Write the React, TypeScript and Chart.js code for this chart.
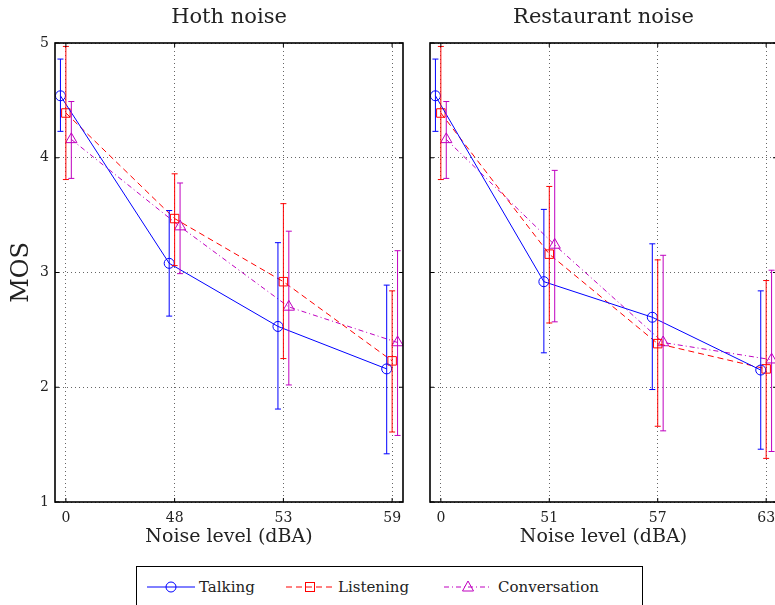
import React, { useEffect, useRef } from 'react';
import { Chart, registerables } from 'chart.js';
Chart.register(...registerables);

const FONT = '"DejaVu Serif", "Liberation Serif", serif';

// ---- data ----
const hothLabels = ['0', '48', '53', '59'];
const restLabels = ['0', '51', '57', '63'];

const hothTalking = [4.54, 3.08, 2.53, 2.16];
const hothTalkingLow = [4.23, 2.62, 1.81, 1.42];
const hothTalkingHigh = [4.86, 3.54, 3.26, 2.89];
const hothListening = [4.39, 3.47, 2.92, 2.23];
const hothListeningLow = [3.81, 3.06, 2.25, 1.61];
const hothListeningHigh = [4.97, 3.86, 3.6, 2.84];
const hothConversation = [4.16, 3.4, 2.7, 2.39];
const hothConversationLow = [3.82, 2.99, 2.02, 1.58];
const hothConversationHigh = [4.49, 3.78, 3.36, 3.19];

const restTalking = [4.54, 2.92, 2.61, 2.15];
const restTalkingLow = [4.23, 2.3, 1.98, 1.46];
const restTalkingHigh = [4.86, 3.55, 3.25, 2.84];
const restListening = [4.39, 3.16, 2.38, 2.16];
const restListeningLow = [3.81, 2.56, 1.66, 1.38];
const restListeningHigh = [4.97, 3.75, 3.11, 2.93];
const restConversation = [4.16, 3.24, 2.39, 2.24];
const restConversationLow = [3.82, 2.57, 1.62, 1.44];
const restConversationHigh = [4.49, 3.89, 3.15, 3.02];

const seriesNames = ['Talking', 'Listening', 'Conversation'];
const seriesColors = ['#0000ff', '#ff0000', '#bf00bf'];
const seriesOffsets = [-0.05, 0, 0.05];
const seriesDashes = [[], [6, 4], [5, 3, 1, 3]];
const seriesPointStyles = ['circle', 'rect', 'triangle'];
const seriesPointRadius = [5, 6, 6.5];

const errorBarPlugin = {
  id: 'errorBars',
  afterDatasetsDraw(chart: any) {
    const ctx = chart.ctx;
    const yScale = chart.scales.y;
    chart.data.datasets.forEach((ds: any, di: number) => {
      const meta = chart.getDatasetMeta(di);
      meta.data.forEach((pt: any, i: number) => {
        const x = pt.x;
        const yl = yScale.getPixelForValue(ds.errLow[i]);
        const yh = yScale.getPixelForValue(ds.errHigh[i]);
        ctx.save();
        ctx.strokeStyle = ds.borderColor;
        ctx.lineWidth = 1;
        ctx.setLineDash([]);
        ctx.beginPath();
        ctx.moveTo(x, yl);
        ctx.lineTo(x, yh);
        ctx.moveTo(x - 3, yl);
        ctx.lineTo(x + 3, yl);
        ctx.moveTo(x - 3, yh);
        ctx.lineTo(x + 3, yh);
        ctx.stroke();
        ctx.restore();
      });
    });
  },
};

const framePlugin = {
  id: 'frame',
  afterDraw(chart: any) {
    const { ctx, chartArea: a } = chart;
    ctx.save();
    ctx.strokeStyle = '#000';
    ctx.lineWidth = 1;
    ctx.setLineDash([]);
    ctx.beginPath();
    // inward ticks
    chart.scales.x.ticks.forEach((t: any) => {
      const px = chart.scales.x.getPixelForValue(t.value);
      ctx.moveTo(px, a.bottom);
      ctx.lineTo(px, a.bottom - 4);
      ctx.moveTo(px, a.top);
      ctx.lineTo(px, a.top + 4);
    });
    chart.scales.y.ticks.forEach((t: any) => {
      const py = chart.scales.y.getPixelForValue(t.value);
      ctx.moveTo(a.left, py);
      ctx.lineTo(a.left + 4, py);
      ctx.moveTo(a.right, py);
      ctx.lineTo(a.right - 4, py);
    });
    ctx.stroke();
    ctx.lineWidth = 1.6;
    ctx.strokeRect(a.left, a.top, a.right - a.left, a.bottom - a.top);
    ctx.restore();
  },
};

function buildDatasets(values: number[][], lows: number[][], highs: number[][]) {
  return values.map((vals, s) => ({
    label: seriesNames[s],
    data: vals.map((v, i) => ({ x: i + seriesOffsets[s], y: v })),
    errLow: lows[s],
    errHigh: highs[s],
    borderColor: seriesColors[s],
    backgroundColor: seriesColors[s],
    borderWidth: 1,
    borderDash: seriesDashes[s],
    pointStyle: seriesPointStyles[s],
    pointRadius: seriesPointRadius[s],
    pointBorderColor: seriesColors[s],
    pointBackgroundColor: 'rgba(0,0,0,0)',
    pointBorderWidth: 1,
    tension: 0,
    fill: false,
  }));
}

function makeConfig(title: string, labels: string[], datasets: any[], first: boolean): any {
  const gridColor = 'rgba(0,0,0,0.6)';
  return {
    type: 'line',
    data: { datasets },
    plugins: [errorBarPlugin, framePlugin],
    options: {
      animation: false,
      responsive: false,
      events: [],
      layout: { padding: { left: 0, right: first ? 12 : 18, top: 0, bottom: 8 } },
      plugins: {
        legend: { display: false },
        tooltip: { enabled: false },
        title: {
          display: true,
          text: title,
          fullSize: false,
          color: '#222',
          font: { family: FONT, size: 21, weight: 'normal', lineHeight: 1.2 },
          padding: { top: 5, bottom: 12.8 },
        },
      },
      scales: {
        x: {
          type: 'linear',
          min: -0.1,
          max: 3.1,
          afterBuildTicks: (scale: any) => {
            scale.ticks = labels.map((_, i) => ({ value: i }));
          },
          afterFit: (scale: any) => {
            scale.height = 50;
          },
          border: { display: false, dash: [1, 3] },
          grid: { color: gridColor, drawTicks: false, lineWidth: 1 },
          ticks: {
            padding: 8,
            maxRotation: 0,
            autoSkip: false,
            color: '#222',
            font: { family: FONT, size: 14, lineHeight: 1.2 },
            callback: (v: any) => labels[Math.round(v)] ?? '',
          },
          title: {
            display: true,
            text: 'Noise level (dBA)',
            color: '#222',
            font: { family: FONT, size: 19, lineHeight: 1.2 },
            padding: { top: 0, bottom: 4 },
          },
        },
        y: {
          type: 'linear',
          min: 1,
          max: 5,
          afterFit: (scale: any) => {
            scale.width = first ? 55 : 15;
          },
          border: { display: false, dash: [1, 3] },
          grid: { color: gridColor, drawTicks: false, lineWidth: 1 },
          ticks: {
            display: first,
            stepSize: 1,
            padding: 6,
            color: '#222',
            font: { family: FONT, size: 14, lineHeight: 1.2 },
          },
          title: {
            display: first,
            text: 'MOS',
            color: '#222',
            font: { family: FONT, size: 24, lineHeight: 1.2 },
            padding: { top: 7.6, bottom: 0 },
          },
        },
      },
    },
  };
}

function Panel(props: { config: any; left: number; width: number; height: number }) {
  const ref = useRef<HTMLCanvasElement | null>(null);
  useEffect(() => {
    if (!ref.current) return;
    const chart = new Chart(ref.current, props.config);
    return () => chart.destroy();
  }, []);
  return (
    <canvas
      ref={ref}
      width={props.width}
      height={props.height}
      style={{ position: 'absolute', left: props.left, top: 0, width: props.width, height: props.height }}
    />
  );
}

function LegendItem(props: { idx: number; lineLeft: number; textLeft: number }) {
  const { idx, lineLeft, textLeft } = props;
  const c = seriesColors[idx];
  const dash = seriesDashes[idx].join(' ');
  let marker: any;
  if (idx === 0) marker = <circle cx={24} cy={8} r={5} fill="none" stroke={c} strokeWidth={1} />;
  else if (idx === 1) marker = <rect x={19.5} y={3.5} width={9} height={9} fill="none" stroke={c} strokeWidth={1} />;
  else marker = <polygon points="24,2 29.5,12 18.5,12" fill="none" stroke={c} strokeWidth={1} />;
  return (
    <>
      <svg
        width={48}
        height={16}
        style={{ position: 'absolute', left: lineLeft, top: 579 }}
      >
        <line x1={0} y1={8} x2={48} y2={8} stroke={c} strokeWidth={1} strokeDasharray={dash || undefined} />
        {marker}
      </svg>
      <span
        style={{
          position: 'absolute',
          left: textLeft,
          top: 578,
          font: `15px ${FONT}`,
          lineHeight: '18px',
          color: '#222',
          whiteSpace: 'nowrap',
        }}
      >
        {seriesNames[idx]}
      </span>
    </>
  );
}

export default function App() {
  const hothConfig = makeConfig(
    'Hoth noise',
    hothLabels,
    buildDatasets(
      [hothTalking, hothListening, hothConversation],
      [hothTalkingLow, hothListeningLow, hothConversationLow],
      [hothTalkingHigh, hothListeningHigh, hothConversationHigh]
    ),
    true
  );
  const restConfig = makeConfig(
    'Restaurant noise',
    restLabels,
    buildDatasets(
      [restTalking, restListening, restConversation],
      [restTalkingLow, restListeningLow, restConversationLow],
      [restTalkingHigh, restListeningHigh, restConversationHigh]
    ),
    false
  );
  return (
    <div
      style={{
        position: 'fixed',
        left: 0,
        top: 0,
        width: 775,
        height: 605,
        overflow: 'hidden',
        background: '#fff',
      }}
    >
      <Panel config={hothConfig} left={0} width={415} height={560} />
      <Panel config={restConfig} left={415} width={380} height={560} />
      <div
        style={{
          position: 'absolute',
          left: 136,
          top: 566,
          width: 507,
          height: 60,
          border: '1.5px solid #000',
          boxSizing: 'border-box',
        }}
      />
      <LegendItem idx={0} lineLeft={147} textLeft={199} />
      <LegendItem idx={1} lineLeft={286} textLeft={338} />
      <LegendItem idx={2} lineLeft={444} textLeft={498} />
    </div>
  );
}
